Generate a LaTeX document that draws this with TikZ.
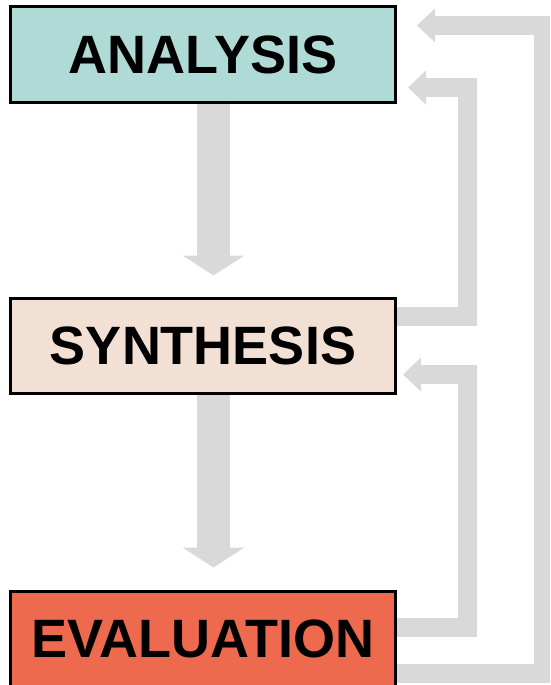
\documentclass[tikz,border=0pt]{standalone}
\usepackage{fontspec}
\setmainfont{Liberation Sans}
\usetikzlibrary{arrows.meta}
\definecolor{analysisfill}{RGB}{176,218,213}
\definecolor{synthesisfill}{RGB}{243,224,212}
\definecolor{evalfill}{RGB}{237,106,78}
\definecolor{arrowgray}{RGB}{217,217,217}

\begin{document}
\begin{tikzpicture}[x=1pt,y=-1pt,
  phase/.style={draw=black,line width=3pt,minimum width=385pt,minimum height=95pt,inner sep=0pt,
    font=\fontsize{54}{60}\selectfont\bfseries},
  down/.style={draw=arrowgray,line width=33pt,-{Triangle[width=61pt,length=20pt]}},
  back/.style={draw=arrowgray,line width=19pt,-{Triangle[width=33pt,length=18pt]}}]
\useasboundingbox (0,0) rectangle (550,685);
\clip (0,0) rectangle (550,685);
% the three phases
\node[phase,fill=analysisfill] (analysis) at (203,54.5) {ANALYSIS};
\node[phase,fill=synthesisfill] (synthesis) at (203,345.5) {SYNTHESIS};
\node[phase,fill=evalfill] (evaluation) at (203,638.5) {EVALUATION};
% forward arrows
\draw[down,shorten >=21pt] ([xshift=10.5pt]analysis.south) -- ([xshift=10.5pt]synthesis.north);
\draw[down,shorten >=22pt] ([xshift=10.5pt]synthesis.south) -- ([xshift=10.5pt]evaluation.north);
% feedback arrows
\draw[back] ([yshift=29pt]synthesis.east) -- ++(70,0) |- ([xshift=11pt,yshift=-33pt]analysis.east);
\draw[back] ([yshift=11.5pt]evaluation.east) -- ++(70,0) |- ([xshift=6pt,yshift=-29pt]synthesis.east);
\draw[back] ([yshift=-34.5pt]evaluation.east) -- ++(146,0) |- ([xshift=20pt,yshift=29pt]analysis.east);
\end{tikzpicture}
\end{document}
